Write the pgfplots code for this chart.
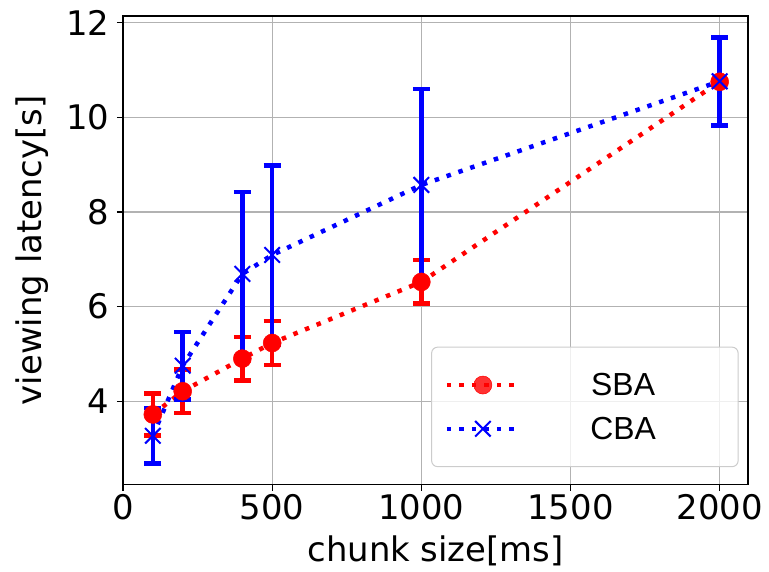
\documentclass[border=0pt]{standalone}
\usepackage{pgfplots}
\pgfplotsset{compat=1.18}
\usepackage{fontspec}
\setmainfont{DejaVu Sans}
\newfontfamily\legfont{Liberation Sans}
\begin{document}
\begin{tikzpicture}
\begin{axis}[
  scale only axis, width=625bp, height=468.5bp,
  xmin=0, xmax=2095, ymin=2.24, ymax=12.14,
  xtick={0,500,1000,1500,2000}, ytick={4,6,8,10,12},
  /pgf/number format/assume math mode=true,
  /pgf/number format/1000 sep={},
  tick label style={font=\fontsize{34}{40}\selectfont},
  label style={font=\fontsize{34}{40}\selectfont},
  xlabel={chunk size[ms]}, ylabel={viewing latency[s]},
  xlabel style={yshift=-9bp}, ylabel style={yshift=11bp},
  grid=major, major grid style={draw=black!30, line width=1.2bp},
  axis line style={line width=1.3bp},
  tick align=outside, xtick pos=left, ytick pos=left, major tick length=6bp,
  every tick/.style={black, line width=1.3bp},
  yticklabel style={xshift=-4bp},
  legend style={at={(rel axis cs:0.985,0.037)}, anchor=south east,
    draw=black!20, line width=1bp, rounded corners=6bp, fill=white, fill opacity=0.8, text opacity=1,
    font=\legfont\fontsize{32}{38}\selectfont, inner xsep=13bp, inner ysep=26bp,
    row sep=20bp, nodes={inner sep=0pt}},
  legend cell align=left,
]
\addplot[red, line width=4.5bp, dash pattern=on 4.5bp off 8bp, mark=*, mark size=9bp,
  mark options={solid, line width=0.5bp},
  legend image code/.code={\draw[mark repeat=2,mark phase=2] plot coordinates {(0bp,0bp) (36bp,0bp) (72bp,0bp)};},
  error bars/.cd, y dir=both, y explicit,
  error bar style={line width=4.5bp, solid},
  error mark options={rotate=90, mark size=8.5bp, line width=4.5bp, solid}]
coordinates {
(100,3.72) +- (0,0.44)
(200,4.21) +- (0,0.46)
(400,4.90) +- (0,0.46)
(500,5.23) +- (0,0.46)
(1000,6.52) +- (0,0.46)
(2000,10.75) +- (0,0)
};
\addlegendentry{\makebox[204bp]{SBA}}
\addplot[blue, line width=4.5bp, dash pattern=on 4.5bp off 8bp, mark=x, mark size=11bp,
  mark options={solid, line width=2bp},
  legend image code/.code={\draw[mark repeat=2,mark phase=2] plot coordinates {(0bp,0bp) (36bp,0bp) (72bp,0bp)};},
  error bars/.cd, y dir=both, y explicit,
  error bar style={line width=4.5bp, solid},
  error mark options={rotate=90, mark size=8.5bp, line width=4.5bp, solid}]
coordinates {
(100,3.27) +- (0,0.59)
(200,4.75) +- (0,0.71)
(400,6.69) +- (0,1.73)
(500,7.09) +- (0,1.89)
(1000,8.57) +- (0,2.03)
(2000,10.76) +- (0,0.93)
};
\addlegendentry{\makebox[204bp]{CBA}}
\end{axis}
\path (-123bp,-87.5bp) rectangle (646bp,484.5bp);
\end{tikzpicture}
\end{document}
